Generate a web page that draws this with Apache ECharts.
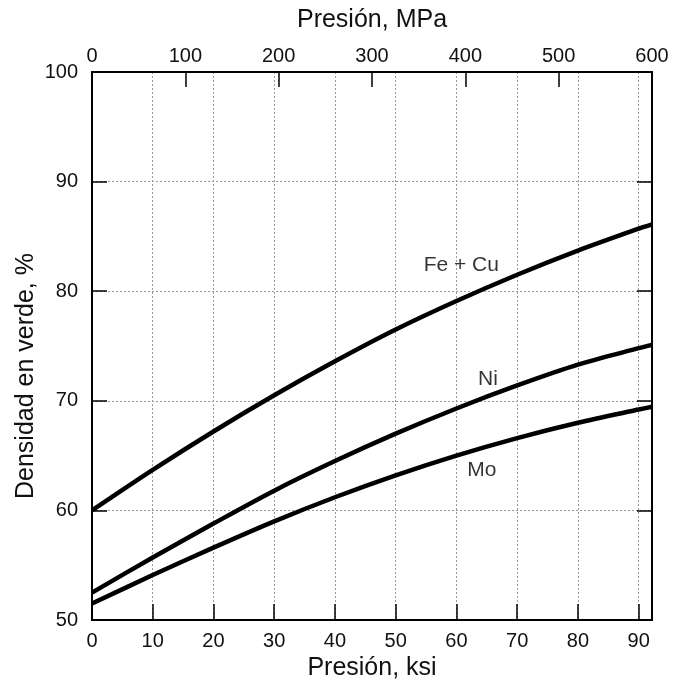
<!DOCTYPE html>
<html>
<head>
<meta charset="utf-8">
<script src="https://cdn.jsdelivr.net/npm/echarts@6/dist/echarts.min.js"></script>
<style>html,body{margin:0;padding:0;background:#fff}#c{width:676px;height:685px}</style>
</head>
<body>
<div id="c"></div>
<script>
// Data
const ksi   = [0, 10, 20, 30, 40, 50, 60, 70, 80, 90, 92.2];
const feCu  = [60.0, 63.7, 67.2, 70.5, 73.6, 76.5, 79.1, 81.5, 83.7, 85.7, 86.1];
const ni    = [52.5, 55.7, 58.8, 61.8, 64.5, 67.0, 69.3, 71.4, 73.3, 74.8, 75.1];
const mo    = [51.5, 54.1, 56.6, 59.0, 61.2, 63.2, 65.0, 66.6, 68.0, 69.2, 69.45];
const seriesNames = ['Fe + Cu', 'Ni', 'Mo'];
const labelKsi = [60.8, 65.2, 64.2];
const labelVal = [82.4, 72.0, 63.7];
const mpaTicks = [0, 100, 200, 300, 400, 500, 600];

const FONT = 'Liberation Sans';
const TXT = '#111';
const pair = (ys) => ksi.map((x, i) => [x, ys[i]]);

const chart = echarts.init(document.getElementById('c'), null, {renderer: 'canvas'});
const lineStyle = {color: '#000', width: 4.5};
const gridLine = {show: true, lineStyle: {color: '#999', width: 1, type: [2, 2]}};
chart.setOption({
  animation: false,
  backgroundColor: '#fff',
  grid: {left: 92, top: 72, right: 24, bottom: 65, containLabel: false, outerBoundsMode: 'none'},
  xAxis: [
    {
      type: 'value', position: 'bottom', min: 0, max: 92.2, interval: 10,
      name: 'Presión, ksi', nameLocation: 'middle', nameGap: 36, nameMoveOverlap: false,
      nameTextStyle: {fontFamily: FONT, fontSize: 25, color: TXT},
      axisLine: {show: true, onZero: false, lineStyle: {color: '#000', width: 2}},
      axisTick: {show: true, inside: true, length: 16, lineStyle: {color: '#000', width: 1.5}},
      axisLabel: {fontFamily: FONT, fontSize: 20, color: TXT, margin: 11, showMaxLabel: false,
        formatter: v => (Math.abs(v % 10) < 1e-6 ? String(v) : '')},
      splitLine: gridLine
    },
    {
      type: 'value', position: 'top', min: mpaTicks[0], max: mpaTicks[mpaTicks.length - 1], interval: 100,
      name: 'Presión, MPa', nameLocation: 'middle', nameGap: 39, nameMoveOverlap: false,
      nameTextStyle: {fontFamily: FONT, fontSize: 25, color: TXT},
      axisLine: {show: true, onZero: false, lineStyle: {color: '#000', width: 2}},
      axisTick: {show: true, inside: true, length: 15, lineStyle: {color: '#000', width: 1.5}},
      axisLabel: {fontFamily: FONT, fontSize: 20, color: TXT, margin: 6},
      splitLine: {show: false}
    }
  ],
  yAxis: [
    {
      type: 'value', position: 'left', min: 50, max: 100, interval: 10,
      name: 'Densidad en verde, %', nameLocation: 'middle', nameGap: 53, nameRotate: 90, nameMoveOverlap: false,
      nameTextStyle: {fontFamily: FONT, fontSize: 25, color: TXT, padding: [0, 60, 0, 0]},
      axisLine: {show: true, onZero: false, lineStyle: {color: '#000', width: 2}},
      axisTick: {show: true, inside: true, length: 15, lineStyle: {color: '#000', width: 1.5}},
      axisLabel: {fontFamily: FONT, fontSize: 20, color: TXT, margin: 14},
      splitLine: gridLine
    },
    {
      type: 'value', position: 'right', min: 50, max: 100, interval: 10,
      axisLine: {show: true, onZero: false, lineStyle: {color: '#000', width: 2}},
      axisTick: {show: true, inside: true, length: 15, lineStyle: {color: '#000', width: 1.5}},
      axisLabel: {show: false},
      splitLine: {show: false}
    }
  ],
  series: [
    {name: seriesNames[0], type: 'line', data: pair(feCu), smooth: 0.3, showSymbol: false, lineStyle, z: 5},
    {name: seriesNames[1], type: 'line', data: pair(ni), smooth: 0.3, showSymbol: false, lineStyle, z: 5},
    {name: seriesNames[2], type: 'line', data: pair(mo), smooth: 0.3, showSymbol: false, lineStyle, z: 5},
    {
      type: 'scatter', symbolSize: 1, itemStyle: {color: 'transparent'}, z: 6,
      data: seriesNames.map((n, i) => ({value: [labelKsi[i], labelVal[i]], name: n})),
      label: {show: true, position: 'inside', formatter: p => p.name,
        fontFamily: FONT, fontSize: 21, color: '#000'}
    }
  ]
});
</script>
</body>
</html>
